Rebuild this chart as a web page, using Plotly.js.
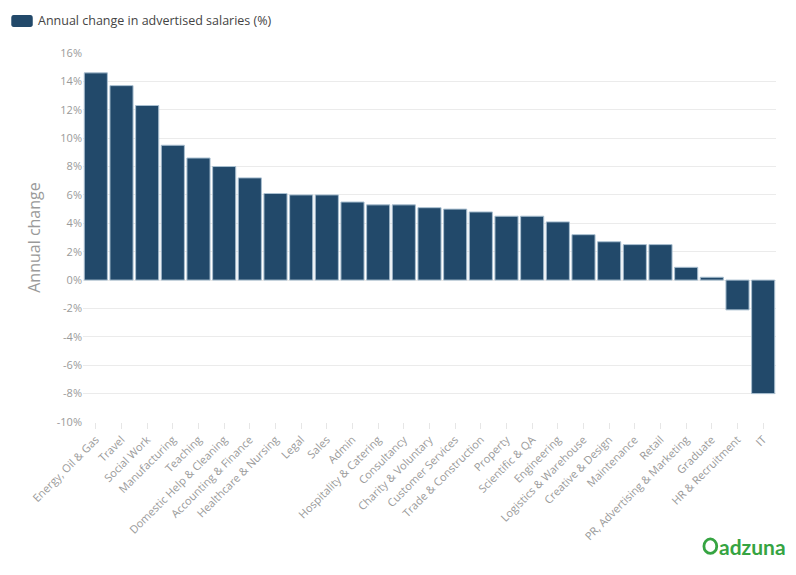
<!DOCTYPE html>
<html>
<head>
<meta charset="utf-8">
<script src="https://cdn.plot.ly/plotly-3.0.1.min.js"></script>
<style>html,body{margin:0;padding:0;background:#fff}#chart{width:796px;height:575px}</style>
</head>
<body>
<div id="chart"></div>
<script>
const categories = ["Energy, Oil & Gas","Travel","Social Work","Manufacturing","Teaching","Domestic Help & Cleaning","Accounting & Finance","Healthcare & Nursing","Legal","Sales","Admin","Hospitality & Catering","Consultancy","Charity & Voluntary","Customer Services","Trade & Construction","Property","Scientific & QA","Engineering","Logistics & Warehouse","Creative & Design","Maintenance","Retail","PR, Advertising & Marketing","Graduate","HR & Recruitment","IT"];
const annualChange = [14.6,13.7,12.3,9.5,8.6,8.0,7.2,6.1,6.0,6.0,5.5,5.3,5.3,5.1,5.0,4.8,4.5,4.5,4.1,3.2,2.7,2.5,2.5,0.9,0.2,-2.1,-8.0];
const yTicks = [-10,-8,-6,-4,-2,0,2,4,6,8,10,12,14,16];
const seriesName = "Annual change in advertised salaries (%)";

const FONT = "Open Sans, sans-serif";
const trace = {
  type: "bar",
  x: categories,
  y: annualChange,
  name: seriesName,
  marker: {color: "#22496a", line: {color: "#a9bfd0", width: 1}},
  hoverinfo: "x+y"
};
const layout = {
  width: 796, height: 575,
  margin: {l: 83, r: 20, t: 53, b: 153},
  paper_bgcolor: "#fff", plot_bgcolor: "#fff",
  showlegend: false,
  bargap: 0.1,
  font: {family: FONT, color: "#999"},
  xaxis: {
    type: "category",
    tickangle: -45,
    tickfont: {size: 11, color: "#9a9a9a", family: FONT},
    ticks: "outside", ticklen: 6, tickcolor: "#e6e6e6",
    showgrid: false, zeroline: false, showline: false,
    automargin: false
  },
  yaxis: {
    range: [-10, 16],
    tickvals: yTicks,
    ticktext: yTicks.map(v => v + "%"),
    tickfont: {size: 11, color: "#9a9a9a", family: FONT},
    gridcolor: "#ebebeb", gridwidth: 1,
    zeroline: false, showline: false,
    ticks: "", automargin: false,
    title: {text: "Annual change", font: {size: 16, color: "#9a9a9a", family: FONT}, standoff: 12}
  },
  shapes: [
    {type: "path", xref: "paper", yref: "paper",
     path: "M -0.1, 1.103 L -0.076, 1.103 Q -0.0725, 1.103 -0.0725, 1.095 L -0.0725, 1.078 Q -0.0725, 1.0705 -0.076, 1.0705 L -0.1, 1.0705 Q -0.1035, 1.0705 -0.1035, 1.078 L -0.1035, 1.095 Q -0.1035, 1.103 -0.1, 1.103 Z",
     fillcolor: "#22496a", line: {width: 0}},
    {type: "circle", xref: "paper", yref: "paper",
     x0: 0.896, x1: 0.9145, y0: -0.356, y1: -0.317,
     line: {color: "#36a442", width: 2.8}, fillcolor: "rgba(0,0,0,0)"}
  ],
  annotations: [
    {xref: "paper", yref: "paper", x: -0.0685, y: 1.087, xanchor: "left", yanchor: "middle",
     text: seriesName, showarrow: false, font: {size: 12.5, color: "#444", family: FONT}},
    {xref: "paper", yref: "paper", x: 0.9155, y: -0.338, xanchor: "left", yanchor: "middle",
     text: "<b>adzuna</b>", showarrow: false, font: {size: 21, color: "#36a442", family: "Lato, sans-serif"}}
  ]
};
Plotly.newPlot("chart", [trace], layout, {displayModeBar: false, responsive: false});
</script>
</body>
</html>
